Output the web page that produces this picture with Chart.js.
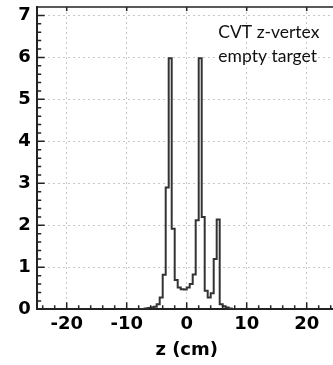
<!DOCTYPE html>
<html><head><meta charset="utf-8">
<script src="https://cdn.jsdelivr.net/npm/chart.js@4"></script>
<style>html,body{margin:0;padding:0;overflow:hidden;background:#fff;width:333px;height:365px}canvas{display:block}</style>
</head><body>
<canvas id="c" width="340" height="365"></canvas>
<script>
// Histogram bins (low edge in cm) and normalized counts
const binLowEdges = [-9,-8.5,-8,-7.5,-7,-6.5,-6,-5.5,-5,-4.5,-4,-3.5,-3,-2.5,-2,-1.5,-1,-0.5,0,0.5,1,1.5,2,2.5,3,3.5,4,4.5,5,5.5,6,6.5,7,7.5,8,8.5];
const binCounts   = [0,0.01,0.01,0.01,0.02,0.03,0.04,0.06,0.12,0.28,0.82,2.9,5.98,1.92,0.7,0.52,0.48,0.47,0.52,0.6,0.83,2.12,5.98,2.2,0.44,0.28,0.38,1.2,2.14,0.12,0.07,0.04,0.02,0.01,0.01,0];
const histEnd = 9;
const xTickValues = [-20,-10,0,10,20];
const yTickValues = [0,1,2,3,4,5,6,7];
const xTitle = 'z (cm)';
const annotationLines = ['CVT z-vertex','empty target'];

const points = binLowEdges.map((e,i)=>({x:e,y:binCounts[i]}));
points.push({x:histEnd,y:0});

const tickFont = {family:'DejaVu Sans', weight:'bold', size:18};

const decor = {
  id:'decor',
  afterDraw(chart){
    const ctx = chart.ctx, a = chart.chartArea;
    const xs = chart.scales.x, ys = chart.scales.y;
    ctx.save();
    ctx.strokeStyle = '#222';
    ctx.lineWidth = 1.5;
    ctx.beginPath(); ctx.moveTo(a.left, a.top); ctx.lineTo(a.right, a.top); ctx.stroke();
    ctx.beginPath();
    for (let v = -24; v <= 24; v += 2) {
      const px = xs.getPixelForValue(v);
      const major = xTickValues.includes(v);
      ctx.moveTo(px, a.bottom); ctx.lineTo(px, a.bottom - (major ? 7 : 4));
      if (major) { ctx.moveTo(px, a.top); ctx.lineTo(px, a.top + 4); }
    }
    for (let k = 0; k <= 35; k++) {
      const v = k * 0.2;
      const py = ys.getPixelForValue(v);
      const major = k % 5 === 0;
      ctx.moveTo(a.left, py); ctx.lineTo(a.left + (major ? 8 : 4.5), py);
    }
    ctx.stroke();
    ctx.fillStyle = '#111';
    ctx.font = '17.5px Lato';
    ctx.textBaseline = 'alphabetic';
    ctx.textAlign = 'left';
    const ax = xs.getPixelForValue(5.27), ay = ys.getPixelForValue(6.46);
    annotationLines.forEach((t,i)=>ctx.fillText(t, ax, ay + i*24.4));
    ctx.restore();
  }
};

new Chart(document.getElementById('c'), {
  type:'line',
  data:{datasets:[{data:points, stepped:'before', borderColor:'#333', borderWidth:2, pointRadius:0, fill:false, tension:0}]},
  options:{
    responsive:false, animation:false, devicePixelRatio:1,
    layout:{padding:{top:7,right:3.3,left:0,bottom:0}},
    plugins:{legend:{display:false}, tooltip:{enabled:false}},
    scales:{
      x:{type:'linear', min:-25, max:25,
        afterBuildTicks:s=>{s.ticks = xTickValues.map(v=>({value:v}));},
        afterFit:s=>{s.height = 55.7; s.paddingLeft = 0; s.paddingRight = 0;},
        ticks:{font:tickFont, color:'#000', padding:4, maxRotation:0, autoSkip:false},
        grid:{color:'#c8c8c8', lineWidth:1, drawTicks:false},
        border:{display:true, color:'#222', width:2, dash:[2,3]},
        title:{display:true, text:xTitle, font:tickFont, color:'#000', padding:{top:0,bottom:4}}
      },
      y:{type:'linear', min:0, max:7.2,
        afterBuildTicks:s=>{s.ticks = yTickValues.map(v=>({value:v}));},
        afterFit:s=>{s.width = 36.7; s.paddingTop = 0; s.paddingBottom = 0;},
        ticks:{font:tickFont, color:'#000', padding:6},
        grid:{color:'#c8c8c8', lineWidth:1, drawTicks:false},
        border:{display:true, color:'#222', width:2, dash:[2,3]}
      }
    }
  },
  plugins:[decor]
});
</script>
</body></html>
